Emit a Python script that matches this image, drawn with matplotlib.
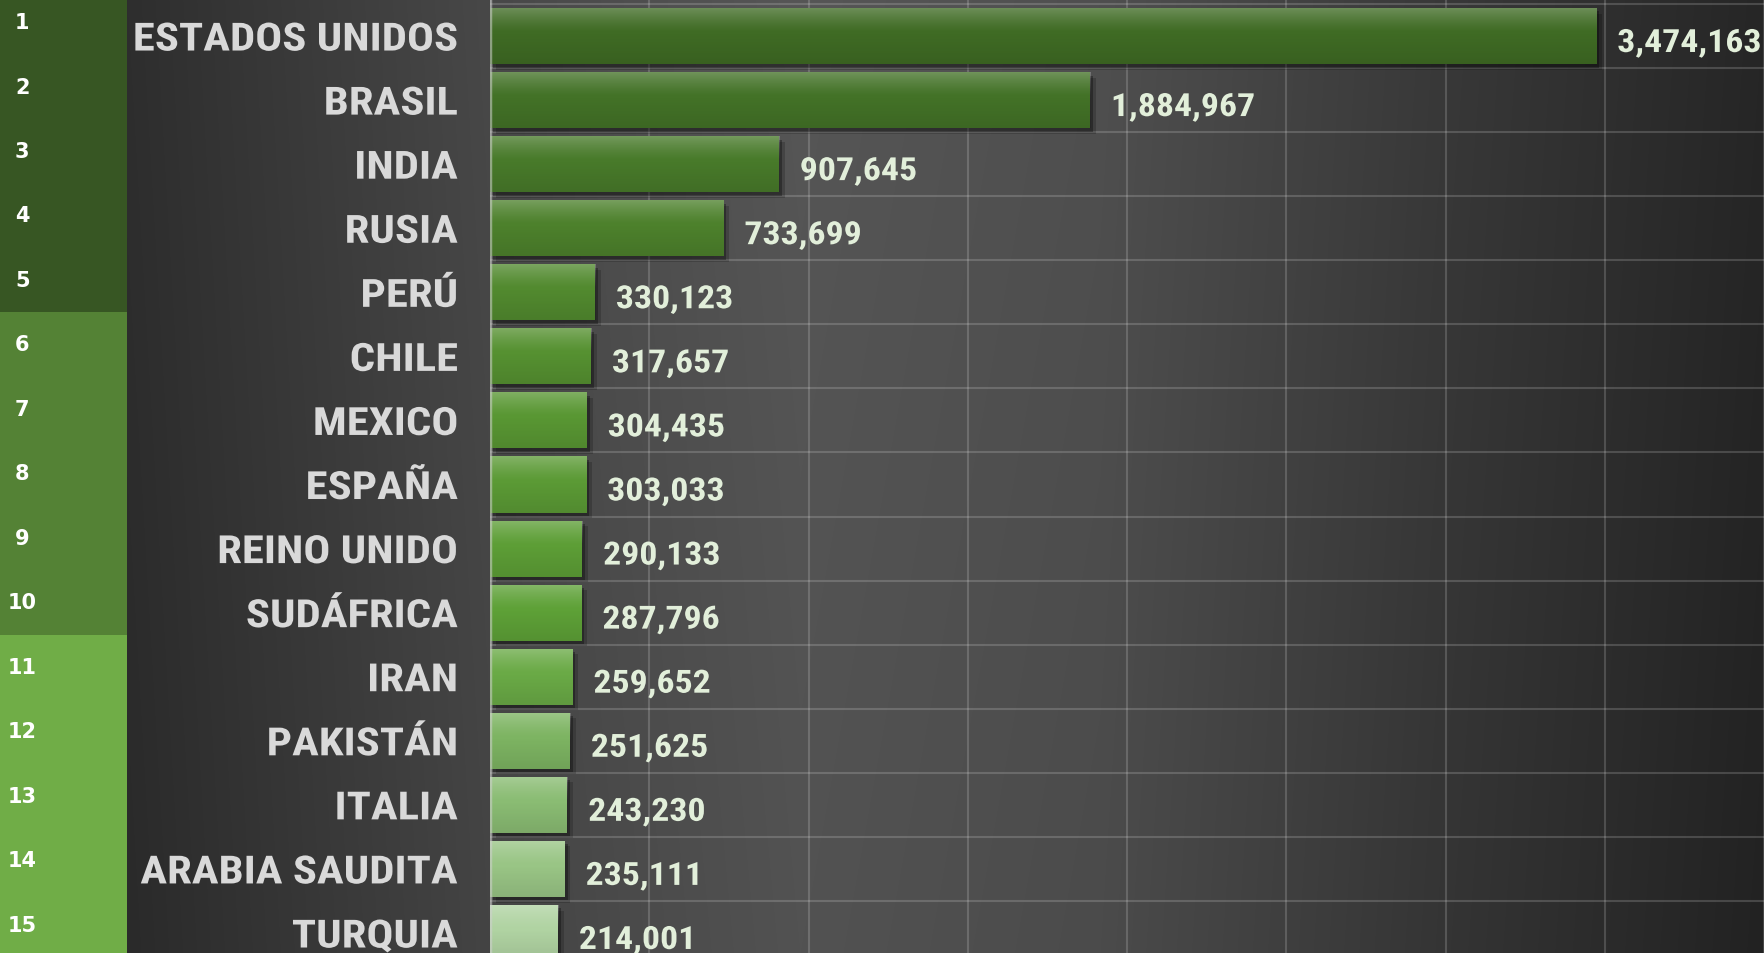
import numpy as np
import matplotlib
matplotlib.use("Agg")
import matplotlib.pyplot as plt
from matplotlib import patheffects as pe
from matplotlib import font_manager as fm
from matplotlib.transforms import Affine2D

# ---------------- data ----------------
countries = ["ESTADOS UNIDOS", "BRASIL", "INDIA", "RUSIA", "PERÚ", "CHILE", "MEXICO",
             "ESPAÑA", "REINO UNIDO", "SUDÁFRICA", "IRAN", "PAKISTÁN", "ITALIA",
             "ARABIA SAUDITA", "TURQUIA"]
cases = [3474163, 1884967, 907645, 733699, 330123, 317657, 304435, 303033,
         290133, 287796, 259652, 251625, 243230, 235111, 214001]
ranks = list(range(1, 16))
bar_colors = ["#3f6b24", "#437227", "#487a2a", "#4d812c", "#528a2f", "#569131",
              "#599733", "#5b9a35", "#5d9e36", "#5ea137", "#6aaa46", "#7db462",
              "#8abc73", "#99c585", "#b0d3a2"]
band_colors = ["#375623", "#548235", "#70ad47"]
group_size = 5
x_max = 4000000
x_step = 500000

# ---------------- fonts ----------------
available = {f.name for f in fm.fontManager.ttflist}
narrow = None
for cand in ["Liberation Sans Narrow", "Arial Narrow", "Roboto Condensed", "Liberation Sans"]:
    if cand in available:
        narrow = cand
        break
if narrow is None:
    narrow = "DejaVu Sans"


class StretchX(pe.AbstractPathEffect):
    """Stretch text glyphs horizontally about its left or right edge."""
    def __init__(self, sx, pivot="right"):
        super().__init__()
        self.sx = sx
        self.pivot = pivot

    def draw_path(self, renderer, gc, tpath, affine, rgbFace=None):
        ext = tpath.get_extents()
        px = ext.x1 if self.pivot == "right" else ext.x0
        tr = Affine2D().translate(-px, 0).scale(self.sx, 1).translate(px, 0) + affine
        renderer.draw_path(gc, tpath, tr, rgbFace)


stretch_lbl = 1.15 if narrow == "Roboto Condensed" else 1.0
stretch_val = 1.12 if narrow == "Roboto Condensed" else 1.0

W, H, DPI = 1764, 954, 100
fig = plt.figure(figsize=(W / DPI, H / DPI), dpi=DPI)

# ---------------- background ----------------
bg = fig.add_axes([0, 0, 1, 1], zorder=-10)
xs = np.arange(W)
ys = np.arange(H)
gx = np.interp(xs, [0, 127, 490, 800, 1100, 1450, 1764], [44, 46, 72, 86, 79, 56, 38])
img = gx[None, :] - 4 * (ys[:, None] / H)
img = np.clip(img, 0, 255) / 255.0
bg.imshow(np.dstack([img, img, img]), extent=[0, W, H, 0], aspect="auto", interpolation="bilinear")
bg.set_xlim(0, W)
bg.set_ylim(H, 0)
bg.axis("off")

# ---------------- rank column ----------------
rk = fig.add_axes([0, 0, 127 / W, 1])
pitch = 64.5
first = 23.0
top_val = 1 - first / pitch
bot_val = 1 + (H - first) / pitch
for gi, col in enumerate(band_colors):
    lo = ranks[gi * group_size] - 0.5
    hi = ranks[min((gi + 1) * group_size, len(ranks)) - 1] + 0.5
    rk.axhspan(lo, hi, color=col, lw=0)
for r in ranks:
    rk.text(0.175, r, str(r), ha="center", va="center", color="white",
            fontsize=15, fontweight="bold", family="DejaVu Sans")
rk.set_xlim(0, 1)
rk.set_ylim(bot_val, top_val)
rk.axis("off")

# ---------------- main chart ----------------
left = 490 / W
ax = fig.add_axes([left, 0, 1 - left, 1])
ax.set_facecolor("none")
y = np.arange(len(countries))
row_px = 64.07
top_lim = -0.5 - 5 / row_px
bot_lim = top_lim + H / row_px

shadow = [pe.SimplePatchShadow(offset=(4, -4), shadow_rgbFace="black", alpha=0.18),
          pe.SimplePatchShadow(offset=(2, -2.5), shadow_rgbFace="black", alpha=0.3),
          pe.Normal()]
bars = ax.barh(y, cases, height=0.875, color=bar_colors, zorder=3, path_effects=shadow)

# gloss gradient on each bar
t = np.linspace(0, 1, 64)
alpha_w = np.where(t < 0.45, 0.25 * (1 - t / 0.45) ** 1.3, 0.0)
alpha_k = np.where(t > 0.45, 0.10 * (t - 0.45) / 0.55, 0.0)
grad = np.zeros((64, 1, 4))
grad[:, 0, :3] = np.where((alpha_w > 0)[:, None], 1.0, 0.0)
grad[:, 0, 3] = alpha_w + alpha_k
for b in bars:
    x0, y0, w, h = b.get_x(), b.get_y(), b.get_width(), b.get_height()
    im = ax.imshow(grad, extent=[x0, x0 + w, y0 + h, y0], aspect="auto",
                   zorder=4, interpolation="bilinear")
    im.set_clip_path(b)

for yi, v in zip(y, cases):
    ax.annotate(f"{v:,}", xy=(v, yi), xytext=(15, -5), textcoords="offset points",
                ha="left", va="center", fontsize=23, fontweight="bold",
                color="#e2efda", family=narrow, zorder=6,
                path_effects=[StretchX(stretch_val, "left")])

ax.axvline(0, color="#d0d0d0", alpha=0.55, lw=2.5, zorder=5)

ax.set_xticks(np.arange(0, x_max + 1, x_step))
ax.set_yticks(y)
ax.set_yticks(np.arange(-0.5, len(countries) + 0.5, 1), minor=True)
ax.set_yticklabels(countries, fontsize=28, fontweight="bold", color="#d9d9d9", family=narrow)
for lbl in ax.get_yticklabels():
    lbl.set_path_effects([StretchX(stretch_lbl, "right")])
ax.tick_params(axis="y", which="both", length=0, pad=23)
ax.tick_params(axis="x", which="both", length=0, labelbottom=False)
ax.grid(axis="x", which="major", color="white", alpha=0.17, lw=1.5, zorder=1)
ax.grid(axis="y", which="minor", color="white", alpha=0.17, lw=1.5, zorder=1)
ax.grid(axis="y", which="major", visible=False)
ax.set_axisbelow(True)
for s in ax.spines.values():
    s.set_visible(False)
ax.set_xlim(0, x_max)
ax.set_ylim(bot_lim, top_lim)

fig.savefig("out.png", dpi=DPI)
